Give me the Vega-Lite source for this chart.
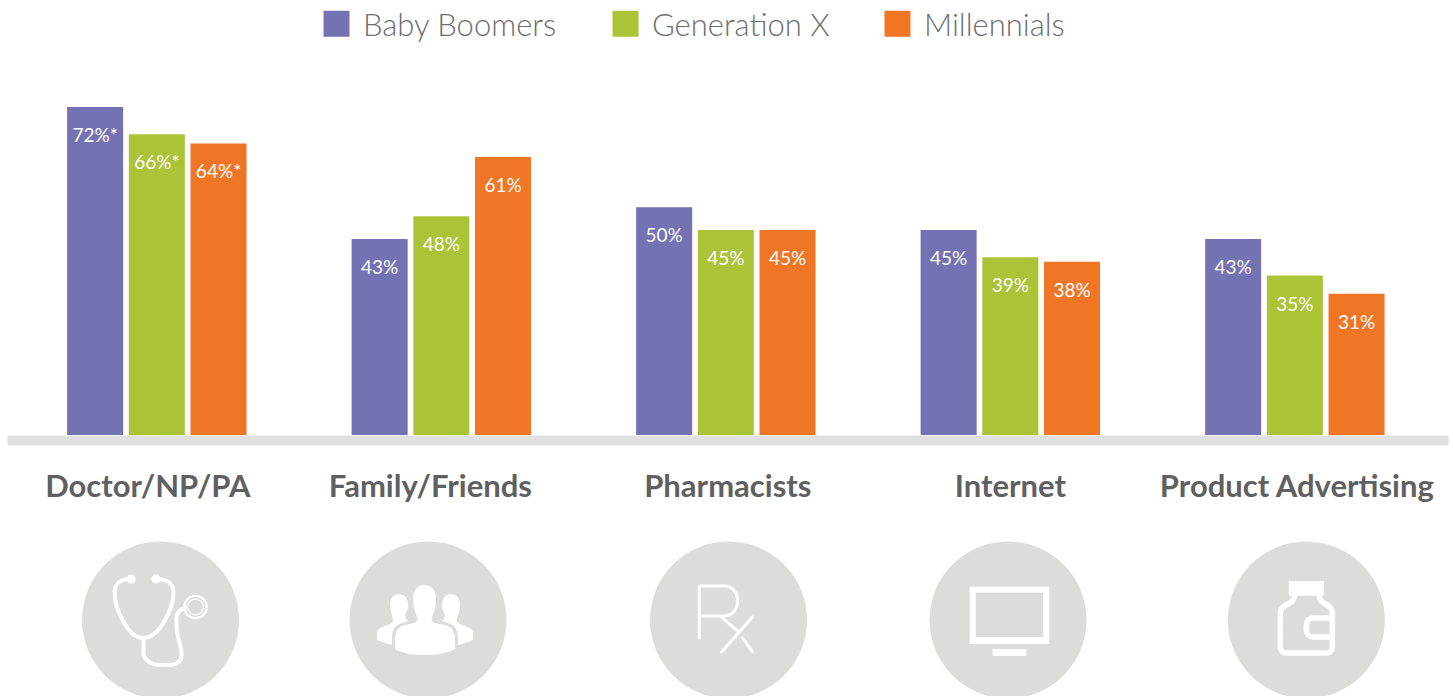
{
"$schema":"https://vega.github.io/schema/vega-lite/v6.json",
"width":1441,"height":435,
"autosize":{"type":"none"},
"padding":{"left":7,"top":0,"right":5,"bottom":261},
"background":"white",
"config":{"view":{"stroke":null}},
"params":[
 {"name":"iconDx","expr":"{'Doctor/NP/PA':3.7,'Family/Friends':-13.3,'Pharmacists':2.7,'Internet':-2.3,'Product Advertising':11.5}"}
],
"datasets":{
 "shares":[
  {"source":"Doctor/NP/PA","generation":"Baby Boomers","share":72,"label":"72%*"},
  {"source":"Doctor/NP/PA","generation":"Generation X","share":66,"label":"66%*"},
  {"source":"Doctor/NP/PA","generation":"Millennials","share":64,"label":"64%*"},
  {"source":"Family/Friends","generation":"Baby Boomers","share":43,"label":"43%"},
  {"source":"Family/Friends","generation":"Generation X","share":48,"label":"48%"},
  {"source":"Family/Friends","generation":"Millennials","share":61,"label":"61%"},
  {"source":"Pharmacists","generation":"Baby Boomers","share":50,"label":"50%"},
  {"source":"Pharmacists","generation":"Generation X","share":45,"label":"45%"},
  {"source":"Pharmacists","generation":"Millennials","share":45,"label":"45%"},
  {"source":"Internet","generation":"Baby Boomers","share":45,"label":"45%"},
  {"source":"Internet","generation":"Generation X","share":39,"label":"39%"},
  {"source":"Internet","generation":"Millennials","share":38,"label":"38%"},
  {"source":"Product Advertising","generation":"Baby Boomers","share":43,"label":"43%"},
  {"source":"Product Advertising","generation":"Generation X","share":35,"label":"35%"},
  {"source":"Product Advertising","generation":"Millennials","share":31,"label":"31%"}
 ],
 "icons":[
  {"source":"Doctor/NP/PA"},{"source":"Family/Friends"},{"source":"Pharmacists"},{"source":"Internet"},{"source":"Product Advertising"}
 ]
},
"encoding":{
 "x":{"field":"source","type":"nominal","sort":["Doctor/NP/PA","Family/Friends","Pharmacists","Internet","Product Advertising"],
  "scale":{"domain":["Doctor/NP/PA","Family/Friends","Pharmacists","Internet","Product Advertising"],"paddingInner":0,"paddingOuter":0.0325,"align":0.41},
  "axis":{"title":null,"orient":"bottom","offset":5,"domainColor":"#e0e0e0","domainWidth":10,"ticks":false,"grid":false,"labelAngle":0,"labelFont":"Lato","labelFontWeight":"bold","labelFontSize":31,"labelColor":"#5f6062","labelPadding":47,"labelBaseline":"middle","labelLimit":600,
   "labelOverlap":false,"labelBound":false,"labelFlush":false,
   "labelOffset":{"condition":[{"test":"datum.value==='Doctor/NP/PA'","value":-9},{"test":"datum.value==='Family/Friends'","value":-11},{"test":"datum.value==='Pharmacists'","value":2},{"test":"datum.value==='Product Advertising'","value":2}],"value":0}}},
 "y":{"type":"quantitative","scale":{"domain":[0,95.48],"nice":false,"zero":false},"axis":null}
},
"layer":[
 {"data":{"name":"shares"},"mark":{"type":"bar","opacity":1},
  "encoding":{
   "xOffset":{"field":"generation","type":"nominal","sort":["Baby Boomers","Generation X","Millennials"],"scale":{"paddingInner":0.092,"paddingOuter":0.8515}},
   "y":{"field":"share","type":"quantitative","title":null},
   "color":{"field":"generation","type":"nominal","scale":{"domain":["Baby Boomers","Generation X","Millennials"],"range":["#7472b3","#abc337","#f07525"]},
    "legend":{"title":null,"orient":"none","legendX":314,"legendY":8,"direction":"horizontal","columns":3,"padding":0,"symbolType":"square","symbolSize":676,"symbolStrokeWidth":0,"symbolOpacity":1,"labelFont":"Lato","labelFontSize":31,"labelFontWeight":300,"labelColor":"#6d6e70","labelOffset":11,"labelLimit":400,"columnPadding":52,"encode":{"labels":{"update":{"dy":{"value":3}}}}}}
  }},
 {"data":{"name":"shares"},"mark":{"type":"text","font":"Lato","fontSize":19,"fontWeight":400,"color":"white","baseline":"middle","align":"center","dy":29},
  "encoding":{
   "xOffset":{"field":"generation","type":"nominal","sort":["Baby Boomers","Generation X","Millennials"]},
   "y":{"field":"share","type":"quantitative"},
   "text":{"field":"label"}
  }},
 {"data":{"name":"icons"},"mark":{"type":"circle","size":24649,"color":"#dcdcdb","opacity":1,"xOffset":{"expr":"iconDx[datum.source]"}},
  "encoding":{"y":{"datum":-40.6,"type":"quantitative"}}},
 {"data":{"name":"icons"},
  "transform":[{"filter":"datum.source!=='Family/Friends' && datum.source!=='Internet'"}],
  "mark":{"type":"point","filled":false,"stroke":"white","opacity":1,"size":4,"strokeCap":"round","strokeJoin":"round",
   "xOffset":{"expr":"iconDx[datum.source]"},
   "strokeWidth":{"expr":"datum.source==='Doctor/NP/PA'?4:datum.source==='Pharmacists'?3:5.5"},
   "shape":{"expr":"datum.source==='Doctor/NP/PA'?'M-30,-41 C-40,-41 -46,-36 -46,-27 C-46,-14 -34,18 -17,18 C0,18 13,-14 13,-27 C13,-36 7,-41 -4,-41 M-17,18 L-17,33 C-17,40 -9,45 -1,45 L9,45 C18,45 22,39 21,32 C20,24 16,15 16,6 L16,-2 C16,-7 20,-12 25,-12':datum.source==='Pharmacists'?'M-29.3,18 L-29.3,-34 L-4,-34 C4,-34 9,-27 9,-19 C9,-11 4,-4 -4,-4 L-29.3,-4 M-7.7,-3.3 L9,11 M14,18 L24,32 M24,-3 L-7,32':'M-12,-24 C-12,-14 -26,-18 -26,-6 L-26,28 C-26,31 -23,33 -20,33 L20,33 C23,33 26,31 26,28 L26,-6 C26,-18 13,-14 13,-24 M26,-2 L7,-2 C3,-2 0,1 0,5 L0,10 C0,14 3,17 7,17 L26,17'"}},
  "encoding":{"y":{"datum":-40.6,"type":"quantitative"}}},
 {"data":{"name":"icons"},
  "transform":[{"filter":"datum.source!=='Pharmacists'"}],
  "mark":{"type":"point","filled":true,"fill":"white","opacity":1,"size":4,"strokeWidth":0,
   "xOffset":{"expr":"iconDx[datum.source]"},
   "shape":{"expr":"datum.source==='Doctor/NP/PA'?'M-34,-41 A4.5,4.5 0 1 1 -25,-41 A4.5,4.5 0 1 1 -34,-41 Z M-9,-41 A4.5,4.5 0 1 1 0,-41 A4.5,4.5 0 1 1 -9,-41 Z M22.7,-13 A12.3,12.3 0 1 1 47.3,-13 A12.3,12.3 0 1 1 22.7,-13 Z M25,-13 A10,10 0 1 0 45,-13 A10,10 0 1 0 25,-13 Z M26.5,-13 A8.5,8.5 0 1 1 43.5,-13 A8.5,8.5 0 1 1 26.5,-13 Z M27.7,-13 A7.3,7.3 0 1 0 42.3,-13 A7.3,7.3 0 1 0 27.7,-13 Z':datum.source==='Family/Friends'?'M-3.7,-35 C-11,-35 -15,-29 -15,-21 C-15,-15 -14,-10 -12,-6 C-11,-3 -10,-1 -11,1 C-13,4 -22,4 -26,6 C-31,8 -33,14 -33,20 L-33,29 C-25,34 -12,35 -3.7,35 C5,35 18,34 27,29 L27,20 C27,14 25,8 20,6 C15,4 6,4 4,1 C3,-1 4,-3 5,-6 C7,-10 8,-15 8,-21 C8,-29 4,-35 -3.7,-35 Z M-29,-26 C-35,-26 -38,-21 -38,-15 C-38,-10 -36,-5 -35,-1 C-34,2 -36,3 -40,5 C-46,7 -51,8 -51,14 L-51,20 C-46,22 -40,24 -36,25 L-36,18 C-36,10 -33,5 -26,3 C-24,2 -22,2 -20,1 C-22,-1 -24,-4 -22,-7 C-20,-11 -20,-13 -20,-15 C-20,-21 -23,-26 -29,-26 Z M23,-26 C29,-26 32,-21 32,-15 C32,-10 30,-5 29,-1 C28,2 30,3 34,5 C40,7 45,8 45,14 L45,20 C40,22 34,24 30,25 L30,18 C30,10 27,5 20,3 C18,2 16,2 14,1 C16,-1 18,-4 16,-7 C14,-11 14,-13 14,-15 C14,-21 17,-26 23,-26 Z':datum.source==='Internet'?'M-38.3,-33.3 L41.3,-33.3 L41.3,24 L-38.3,24 Z M-32.3,-27.3 L-32.3,17.3 L35,17.3 L35,-27.3 Z M-15.3,29 L18.3,29 L18.3,36 L-15.3,36 Z':'M-17.5,-39 L17.5,-39 L17.5,-24.3 L-17.5,-24.3 Z'"}},
  "encoding":{"y":{"datum":-40.6,"type":"quantitative"}}}
]
}
